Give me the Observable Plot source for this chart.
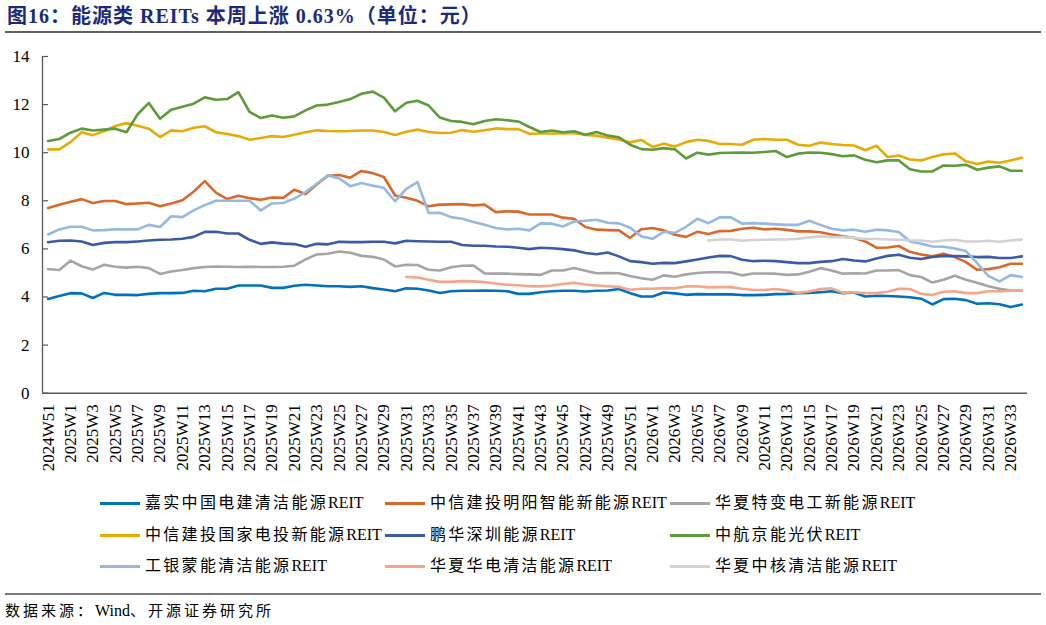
<!DOCTYPE html>
<html><head><meta charset="utf-8">
<script src="https://cdn.jsdelivr.net/npm/d3@7"></script>
<script src="https://cdn.jsdelivr.net/npm/@observablehq/plot@0.6"></script>
<style>
body{margin:0;background:#fff;}
#wrap{position:relative;width:1046px;height:625px;overflow:hidden;font-family:"Liberation Serif","Noto Sans CJK SC",serif;color:#000;}
#title{position:absolute;left:7px;top:4px;font-size:20px;font-weight:bold;color:#1B2A7B;white-space:nowrap;line-height:24px;letter-spacing:1px;}
.rule{position:absolute;left:5px;width:1036px;height:0;border-top:2px solid #5f5f5f;}
#chart{position:absolute;left:0;top:36px;}
.leg{position:absolute;display:flex;align-items:center;font-size:16px;white-space:nowrap;line-height:20px;}
.sw{width:40px;height:0;border-top:3px solid;margin-right:5px;}
.cjk{letter-spacing:2.3px;}
#src{position:absolute;left:5px;top:601px;font-size:16px;white-space:nowrap;line-height:20px;}
#src .cjk{letter-spacing:3px;font-size:15px;}
</style></head><body>
<div id="wrap">
<div id="title">图16：能源类 REITs 本周上涨 0.63%（单位：元）</div>
<div class="rule" style="top:31px"></div>
<div id="chart"></div>
<div id="legend"></div>
<div class="rule" style="top:593px;border-top-color:#7a7a7a"></div>
<div id="src"><span class="cjk">数据来源：</span>Wind<span class="cjk">、开源证券研究所</span></div>
</div>
<script>
const weeks = [
"2024W51","2024W52",
"2025W1","2025W2","2025W3","2025W4","2025W5","2025W6","2025W7","2025W8","2025W9","2025W10",
"2025W11","2025W12","2025W13","2025W14","2025W15","2025W16","2025W17","2025W18","2025W19","2025W20",
"2025W21","2025W22","2025W23","2025W24","2025W25","2025W26","2025W27","2025W28","2025W29","2025W30",
"2025W31","2025W32","2025W33","2025W34","2025W35","2025W36","2025W37","2025W38","2025W39","2025W40",
"2025W41","2025W42","2025W43","2025W44","2025W45","2025W46","2025W47","2025W48","2025W49","2025W50",
"2025W51","2025W52",
"2026W1","2026W2","2026W3","2026W4","2026W5","2026W6","2026W7","2026W8","2026W9","2026W10",
"2026W11","2026W12","2026W13","2026W14","2026W15","2026W16","2026W17","2026W18","2026W19","2026W20",
"2026W21","2026W22","2026W23","2026W24","2026W25","2026W26","2026W27","2026W28","2026W29","2026W30",
"2026W31","2026W32","2026W33","2026W34"];

const seriesNames = [
"嘉实中国电建清洁能源REIT","中信建投明阳智能新能源REIT","华夏特变电工新能源REIT",
"中信建投国家电投新能源REIT","鹏华深圳能源REIT","中航京能光伏REIT",
"工银蒙能清洁能源REIT","华夏华电清洁能源REIT","华夏中核清洁能源REIT"];
const seriesColors = ["#0070C0","#D9692A","#A5A5A5","#E8AB06","#3B5BA8","#5E9B3A","#95B9E3","#F2A68A","#D2D2D2"];

const jiashi = [
3.92,4.04,4.16,4.15,3.96,4.17,4.09,4.09,4.08,4.13,
4.16,4.16,4.17,4.26,4.24,4.34,4.34,4.48,4.48,4.48,
4.38,4.38,4.47,4.51,4.48,4.45,4.45,4.42,4.45,4.37,
4.31,4.24,4.36,4.34,4.27,4.17,4.24,4.26,4.26,4.27,
4.26,4.24,4.13,4.13,4.20,4.24,4.26,4.26,4.23,4.26,
4.27,4.33,4.16,4.02,4.02,4.19,4.15,4.09,4.12,4.11,
4.11,4.11,4.08,4.08,4.09,4.12,4.13,4.16,4.17,4.20,
4.24,4.16,4.19,4.02,4.05,4.04,4.02,3.99,3.93,3.69,
3.91,3.93,3.87,3.72,3.74,3.70,3.58,3.69];
const mingyang = [
7.70,7.84,7.96,8.07,7.91,7.99,7.99,7.86,7.89,7.92,
7.77,7.89,8.02,8.38,8.82,8.34,8.07,8.21,8.11,8.04,
8.14,8.12,8.46,8.28,8.68,9.04,9.07,8.96,9.24,9.15,
8.99,8.22,8.13,8.00,7.77,7.84,7.85,7.86,7.81,7.84,
7.53,7.56,7.55,7.43,7.43,7.43,7.30,7.25,6.91,6.80,
6.78,6.77,6.46,6.82,6.87,6.77,6.59,6.50,6.71,6.62,
6.74,6.75,6.84,6.88,6.81,6.84,6.79,6.73,6.73,6.69,
6.60,6.52,6.46,6.31,6.05,6.06,6.12,5.88,5.77,5.69,
5.80,5.66,5.45,5.13,5.16,5.24,5.38,5.38];
const tebian = [
5.16,5.12,5.51,5.28,5.14,5.34,5.26,5.22,5.26,5.20,
4.96,5.06,5.12,5.20,5.25,5.27,5.26,5.25,5.26,5.25,
5.25,5.26,5.30,5.56,5.77,5.80,5.89,5.84,5.71,5.67,
5.56,5.27,5.34,5.33,5.13,5.10,5.24,5.30,5.31,4.98,
4.97,4.97,4.95,4.94,4.92,5.10,5.10,5.21,5.09,4.99,
5.00,4.99,4.87,4.78,4.72,4.90,4.84,4.94,5.00,5.03,
5.03,5.02,4.90,4.98,4.98,4.97,4.92,4.94,5.05,5.20,
5.10,4.97,4.99,4.98,5.10,5.10,5.12,4.91,4.83,4.60,
4.72,4.88,4.72,4.59,4.45,4.34,4.27,4.26];
const guojiadiantou = [
10.14,10.14,10.44,10.85,10.73,10.89,11.11,11.23,11.12,11.00,
10.65,10.93,10.89,11.04,11.10,10.85,10.78,10.69,10.54,10.61,
10.69,10.65,10.75,10.85,10.93,10.90,10.89,10.90,10.92,10.92,
10.86,10.74,10.87,10.96,10.86,10.82,10.83,10.94,10.87,10.93,
11.01,10.98,10.98,10.79,10.80,10.80,10.80,10.82,10.74,10.71,
10.62,10.55,10.43,10.53,10.24,10.37,10.26,10.44,10.54,10.49,
10.36,10.36,10.33,10.54,10.57,10.54,10.54,10.33,10.29,10.42,
10.36,10.32,10.30,10.10,10.29,9.82,9.88,9.72,9.68,9.82,
9.93,9.97,9.64,9.53,9.63,9.58,9.68,9.79];
const pengshua = [
6.28,6.34,6.35,6.31,6.16,6.25,6.28,6.28,6.31,6.35,
6.38,6.39,6.42,6.50,6.71,6.71,6.64,6.64,6.38,6.21,
6.27,6.22,6.20,6.09,6.21,6.19,6.30,6.28,6.28,6.30,
6.30,6.23,6.34,6.32,6.31,6.30,6.30,6.16,6.13,6.13,
6.10,6.09,6.05,5.99,6.05,6.03,5.99,5.94,5.83,5.78,
5.85,5.69,5.49,5.45,5.38,5.42,5.41,5.48,5.56,5.64,
5.71,5.70,5.55,5.49,5.51,5.49,5.45,5.41,5.41,5.46,
5.49,5.58,5.52,5.48,5.60,5.71,5.76,5.63,5.58,5.66,
5.71,5.70,5.69,5.66,5.67,5.62,5.62,5.69];
const jingneng = [
10.49,10.57,10.83,11.00,10.92,10.96,11.00,10.85,11.60,12.07,
11.41,11.79,11.91,12.04,12.30,12.20,12.23,12.52,11.70,11.44,
11.55,11.45,11.51,11.76,11.96,12.00,12.11,12.23,12.45,12.54,
12.29,11.72,12.08,12.16,11.96,11.46,11.32,11.28,11.18,11.32,
11.39,11.35,11.30,11.07,10.86,10.92,10.85,10.89,10.75,10.86,
10.71,10.64,10.33,10.15,10.12,10.19,10.14,9.76,10.00,9.92,
9.99,10.00,10.01,10.00,10.03,10.07,9.82,9.96,10.01,10.00,
9.94,9.85,9.89,9.71,9.60,9.68,9.68,9.31,9.22,9.22,
9.47,9.46,9.50,9.29,9.38,9.43,9.25,9.25];
const mengneng = [
6.60,6.81,6.92,6.92,6.77,6.78,6.82,6.81,6.81,7.00,
6.91,7.36,7.32,7.60,7.82,8.00,8.00,8.00,8.00,7.60,
7.89,7.91,8.09,8.36,8.71,9.06,8.93,8.61,8.74,8.63,
8.54,7.98,8.50,8.78,7.49,7.50,7.32,7.25,7.12,7.00,
6.87,6.81,6.84,6.77,7.06,7.05,6.93,7.14,7.17,7.21,
7.09,7.06,6.88,6.52,6.42,6.71,6.67,6.92,7.25,7.07,
7.31,7.31,7.05,7.07,7.05,7.02,7.00,7.00,7.17,7.00,
6.84,6.77,6.80,6.71,6.80,6.77,6.70,6.31,6.21,6.10,
6.09,6.02,5.91,5.41,4.88,4.65,4.91,4.83];
const huadian = [
null,null,null,null,null,null,null,null,null,null,
null,null,null,null,null,null,null,null,null,null,
null,null,null,null,null,null,null,null,null,null,
null,null,4.83,4.81,4.72,4.63,4.63,4.66,4.65,4.62,
4.56,4.51,4.49,4.45,4.44,4.48,4.54,4.59,4.52,4.48,
4.45,4.42,4.30,4.34,4.34,4.37,4.36,4.44,4.45,4.40,
4.41,4.41,4.34,4.29,4.29,4.33,4.27,4.17,4.23,4.33,
4.36,4.17,4.20,4.16,4.16,4.22,4.34,4.33,4.13,4.08,
4.22,4.24,4.16,4.16,4.24,4.24,4.26,4.27];
const zhonghe = [
null,null,null,null,null,null,null,null,null,null,
null,null,null,null,null,null,null,null,null,null,
null,null,null,null,null,null,null,null,null,null,
null,null,null,null,null,null,null,null,null,null,
null,null,null,null,null,null,null,null,null,null,
null,null,null,null,null,null,null,null,null,6.35,
6.39,6.39,6.34,6.37,6.38,6.39,6.39,6.42,6.48,6.52,
6.49,6.49,6.46,6.41,6.41,6.39,6.38,6.35,6.35,6.30,
6.35,6.38,6.31,6.31,6.34,6.30,6.35,6.39];

const seriesValues = [jiashi, mingyang, tebian, guojiadiantou, pengshua, jingneng, mengneng, huadian, zhonghe];
const yTicks = [0,2,4,6,8,10,12,14];
const xTickIdx = weeks.map((w,i)=>i).filter(i=>i%2===0);

const rows = [];
seriesValues.forEach((arr, s) => arr.forEach((v, i) => { if (v != null) rows.push({i, v, s: seriesNames[s]}); }));

const axisColor = "#5a5a5a";
const chart = Plot.plot({
  width: 1046,
  height: 450,
  marginTop: 20,
  marginBottom: 93.3,
  marginLeft: 42,
  marginRight: 19,
  style: {fontFamily: '"Liberation Serif", "Noto Sans CJK SC", serif', fontSize: "17px", background: "transparent", color: "#000"},
  x: {type: "linear", domain: [-0.5, weeks.length - 0.5]},
  y: {domain: [0, 14]},
  color: {domain: seriesNames, range: seriesColors},
  marks: [
    Plot.axisY({ticks: yTicks, tickSize: 0, tickPadding: 13, fontSize: 17, label: null}),
    Plot.axisX({ticks: xTickIdx, tickFormat: i => weeks[i], tickRotate: -90, tickSize: 0, tickPadding: 11, fontSize: 17, label: null}),
    Plot.tickY(yTicks, {y: d => d, insetRight: 1046 - 42 - 19 - 6, stroke: axisColor, strokeWidth: 1.2}),
    ...seriesNames.map(name => Plot.line(rows.filter(r => r.s === name), {
      x: "i", y: "v", stroke: "s", strokeWidth: 2.6, strokeLinejoin: "round", strokeLinecap: "round"
    })),
    Plot.ruleX([-0.5], {stroke: axisColor, strokeWidth: 1.3}),
    Plot.ruleY([0], {stroke: axisColor, strokeWidth: 1.6})
  ]
});
document.getElementById("chart").appendChild(chart);

// legend
const legend = document.getElementById("legend");
const colX = [100, 385, 670];
const rowY = [493, 525, 556];
seriesNames.forEach((name, k) => {
  const div = document.createElement("div");
  div.className = "leg";
  div.style.left = colX[k % 3] + "px";
  div.style.top = rowY[Math.floor(k / 3)] + "px";
  const sw = document.createElement("div");
  sw.className = "sw";
  sw.style.borderTopColor = seriesColors[k];
  div.appendChild(sw);
  const cj = document.createElement("span");
  cj.className = "cjk";
  cj.textContent = name.replace("REIT", "");
  div.appendChild(cj);
  const lt = document.createElement("span");
  lt.textContent = "REIT";
  div.appendChild(lt);
  legend.appendChild(div);
});
</script>
</body></html>
